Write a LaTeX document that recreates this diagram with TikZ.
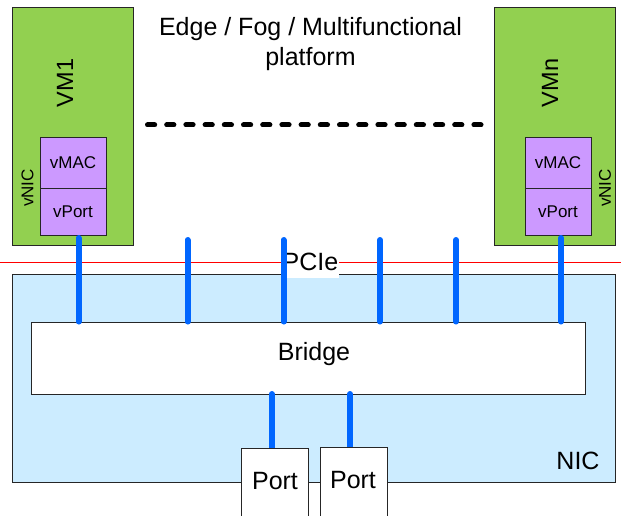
\documentclass[tikz,border=0pt]{standalone}
\usepackage{fontspec}
\setmainfont{Liberation Sans}
\definecolor{vmgreen}{HTML}{92D050}
\definecolor{vpurple}{HTML}{CC99FF}
\definecolor{nicblue}{HTML}{CCECFF}
\definecolor{busblue}{HTML}{0066FF}
\begin{document}
\begin{tikzpicture}[x=1pt,y=-1pt,
  box/.style={draw=black!85, line width=0.9pt, rectangle, inner sep=0pt},
  big/.style={font=\fontsize{25}{30}\selectfont},
  vmtxt/.style={font=\fontsize{23.5}{28}\selectfont, rotate=90},
  small/.style={font=\fontsize{17}{20}\selectfont},
  bus/.style={draw=busblue, line width=6pt, line cap=round}]
\clip (0,0) rectangle (621,516);
\fill[white] (0,0) rectangle (621,516);
% VMs
\node[box, fill=vmgreen, minimum width=121, minimum height=238] (vm1) at (72.5,126) {};
\node[box, fill=vmgreen, minimum width=120.5, minimum height=238] (vmn) at (554.75,126) {};
\node[vmtxt] (vm1t) at (65,83) {VM1};
\node[vmtxt] (vmnt) at (550,83) {VMn};
\node[box, fill=vpurple, minimum width=66, minimum height=51, small] (vmac1) at (73,162.5) {vMAC};
\node[box, fill=vpurple, minimum width=66, minimum height=47, small] (vport1) at (73,211.5) {vPort};
\node[box, fill=vpurple, minimum width=66, minimum height=51, small] (vmacn) at (558,162.5) {vMAC};
\node[box, fill=vpurple, minimum width=66, minimum height=47, small] (vportn) at (558,211.5) {vPort};
\node[small, rotate=90] (vnic1) at (27.5,188) {vNIC};
\node[small, rotate=90] (vnicn) at (605,188) {vNIC};
% title
\node[big, align=center] (title) at (310.5,44) {Edge / Fog / Multifunctional\\platform};
% dots
\coordinate (d1) at (147.5,125);
\coordinate (d2) at (481,125);
\draw[line width=5pt, line cap=round, dash pattern=on 7.2pt off 12pt] (d1) -- (d2);
% NIC
\node[box, fill=nicblue, minimum width=603, minimum height=208] (nic) at (313.5,378) {};
\node[big] (nict) at (578,461) {NIC};
% PCIe line
\coordinate (r1) at (0,262.3);
\coordinate (r2) at (621,262.3);
\draw[red, line width=0.9pt] (r1) -- (r2);
\node[big, fill=white, inner xsep=0.5pt, inner ysep=0pt, text height=14pt, text depth=8pt, anchor=base] (pcie) at (310.5,270) {PCIe};
% bridge
\node[box, fill=white, minimum width=554, minimum height=72] (bridge) at (308,358) {};
\node[big] (bridget) at (314,354) {Bridge};
% buses
\coordinate (b1) at (78.5,238);
\coordinate (b2) at (187.5,240);
\coordinate (b3) at (283.5,240);
\coordinate (b4) at (380,240);
\coordinate (b5) at (456,240);
\coordinate (b6) at (561,238);
\draw[bus] (b1) -- (b1 |- bridge.north);
\draw[bus] (b2) -- (b2 |- bridge.north);
\draw[bus] (b3) -- (b3 |- bridge.north);
\draw[bus] (b4) -- (b4 |- bridge.north);
\draw[bus] (b5) -- (b5 |- bridge.north);
\draw[bus] (b6) -- (b6 |- bridge.north);
\coordinate (p1) at (271.8,394);
\coordinate (p2) at (350,394);
% ports
\draw[bus] (p1) -- (p1 |- 0,448);
\draw[bus] (p2) -- (p2 |- 0,447);
\node[box, fill=white, anchor=north, minimum width=67, minimum height=90] (port1) at (274.5,448) {};
\node[box, fill=white, anchor=north, minimum width=67, minimum height=90] (port2) at (353.5,447) {};
\node[big] (port1t) at (275,481) {Port};
\node[big] (port2t) at (353,480) {Port};
\end{tikzpicture}
\end{document}
